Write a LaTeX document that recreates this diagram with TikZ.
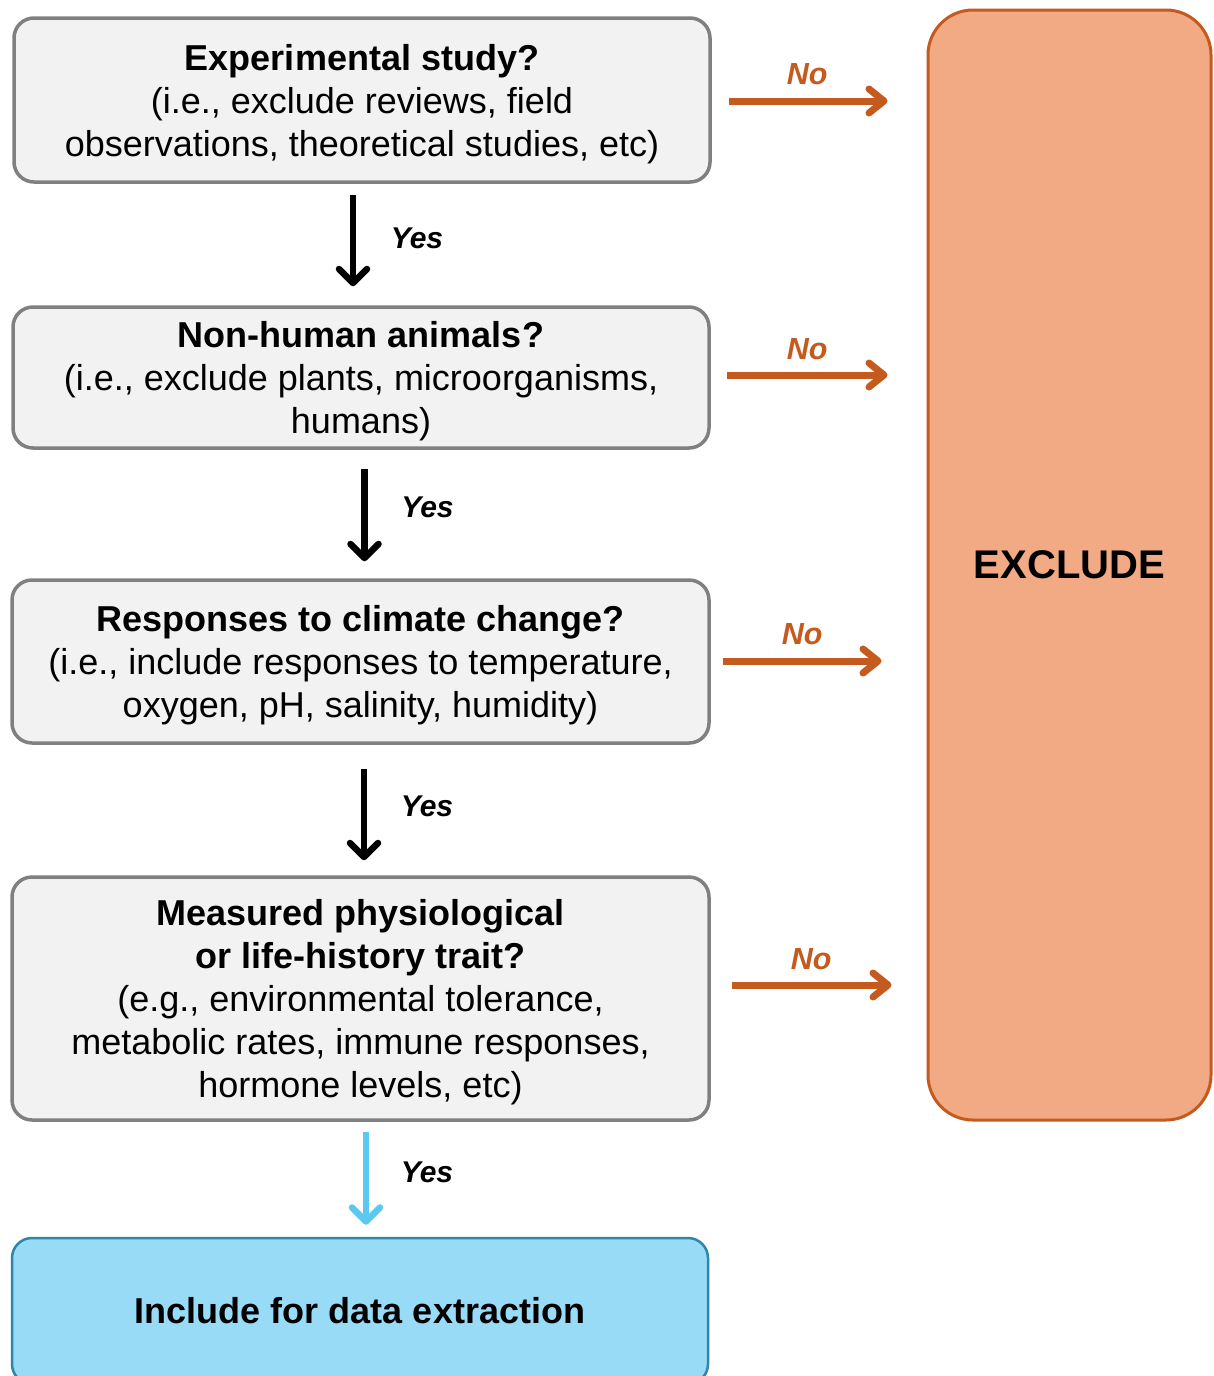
\documentclass[tikz,border=0pt]{standalone}
\usepackage{fontspec}
\setmainfont{Liberation Sans}
\usetikzlibrary{arrows.meta}
\definecolor{grayfill}{HTML}{F2F2F2}
\definecolor{grayline}{HTML}{808080}
\definecolor{orangeline}{HTML}{C55A1F}
\definecolor{orangefill}{HTML}{F2AA84}
\definecolor{bluefill}{HTML}{97DBF7}
\definecolor{blueline}{HTML}{2E86A8}
\definecolor{bluearrow}{HTML}{5BC8F0}
\newcommand\boxtext[1]{\raisebox{-4.5pt}[\height][\depth]{\begin{tabular}{@{}c@{}}#1\end{tabular}}}
\tikzset{
  qbox/.style={draw=grayline, fill=grayfill, line width=3.5pt, rounded corners=20pt,
    inner sep=0pt, font=\fontsize{36}{43}\selectfont},
  yesarrow/.style={line width=6.5pt, -{Straight Barb[length=14pt, width=28pt, round]}},
  noarrow/.style={orangeline, line width=7pt, -{Straight Barb[length=15pt, width=24pt, round]}},
  yeslabel/.style={font=\fontsize{30}{36}\selectfont\bfseries\itshape},
  nolabel/.style={text=orangeline, font=\fontsize{30.5}{36}\selectfont\bfseries\itshape},
}
\begin{document}
\begin{tikzpicture}[x=1pt,y=-1pt]
\useasboundingbox (0,0) rectangle (1213,1376);
\fill[white] (0,0) rectangle (1213,1376);
\clip (0,0) rectangle (1213,1376);

\node[qbox, minimum width=696pt, minimum height=164pt] (q1) at (362,100)
  {\boxtext{\textbf{Experimental study?}\\(i.e., exclude reviews, field\\observations, theoretical studies, etc)}};
\node[qbox, minimum width=696pt, minimum height=141pt] (q2) at (361,377.5)
  {\boxtext{\textbf{Non-human animals?}\\(i.e., exclude plants, microorganisms,\\humans)}};
\node[qbox, minimum width=697pt, minimum height=163pt] (q3) at (360.5,661.5)
  {\boxtext{\textbf{Responses to climate change?}\\(i.e., include responses to temperature,\\oxygen, pH, salinity, humidity)}};
\node[qbox, minimum width=697pt, minimum height=243pt] (q4) at (360.5,998.5)
  {\boxtext{\textbf{Measured physiological}\\\textbf{or life-history trait?}\\(e.g., environmental tolerance,\\metabolic rates, immune responses,\\hormone levels, etc)}};
\node[draw=blueline, fill=bluefill, line width=2.5pt, rounded corners=20pt, inner sep=0pt,
  minimum width=696pt, minimum height=146pt, font=\fontsize{36}{43}\selectfont\bfseries] (inc) at (360,1311)
  {Include for data extraction};
\node[draw=orangeline, fill=orangefill, line width=3pt, rounded corners=45pt, inner sep=0pt,
  minimum width=283pt, minimum height=1110pt, font=\fontsize{40}{48}\selectfont\bfseries] (excl) at (1069.5,565)
  {EXCLUDE};

% Yes arrows
\draw[yesarrow, shorten <=11pt, shorten >=19pt] ([xshift=-9pt]q1.south) -- ([xshift=-9pt]q1.south |- q2.north)
  node[midway, yeslabel, xshift=64pt, yshift=6.5pt] {Yes};
\draw[yesarrow, shorten <=19pt, shorten >=17pt] ([xshift=3.5pt]q2.south) -- ([xshift=3.5pt]q2.south |- q3.north)
  node[midway, yeslabel, xshift=63pt, yshift=7pt] {Yes};
\draw[yesarrow, shorten <=24pt, shorten >=15pt] ([xshift=3.5pt]q3.south) -- ([xshift=3.5pt]q3.south |- q4.north)
  node[midway, yeslabel, xshift=63pt, yshift=4pt] {Yes};
\draw[yesarrow, bluearrow, shorten <=10pt, shorten >=12pt] ([xshift=5.5pt]q4.south) -- ([xshift=5.5pt]q4.south |- inc.north)
  node[midway, yeslabel, text=black, xshift=61pt, yshift=7pt] {Yes};

% No arrows
\draw[noarrow, shorten <=17pt, shorten >=39pt] ([yshift=-1pt]q1.east) -- ([yshift=-1pt]q1.east -| excl.west)
  node[midway, nolabel, xshift=-12pt, yshift=27pt] {No};
\draw[noarrow, shorten <=16pt, shorten >=39pt] ([yshift=2.5pt]q2.east) -- ([yshift=2.5pt]q2.east -| excl.west)
  node[midway, nolabel, xshift=-11.5pt, yshift=26pt] {No};
\draw[noarrow, shorten <=12pt, shorten >=45pt] ([yshift=0.5pt]q3.east) -- ([yshift=0.5pt]q3.east -| excl.west)
  node[midway, nolabel, xshift=-16.5pt, yshift=27pt] {No};
\draw[noarrow, shorten <=21pt, shorten >=35pt] ([yshift=13.5pt]q4.east) -- ([yshift=13.5pt]q4.east -| excl.west)
  node[midway, nolabel, xshift=-7.5pt, yshift=26pt] {No};
\end{tikzpicture}
\end{document}
